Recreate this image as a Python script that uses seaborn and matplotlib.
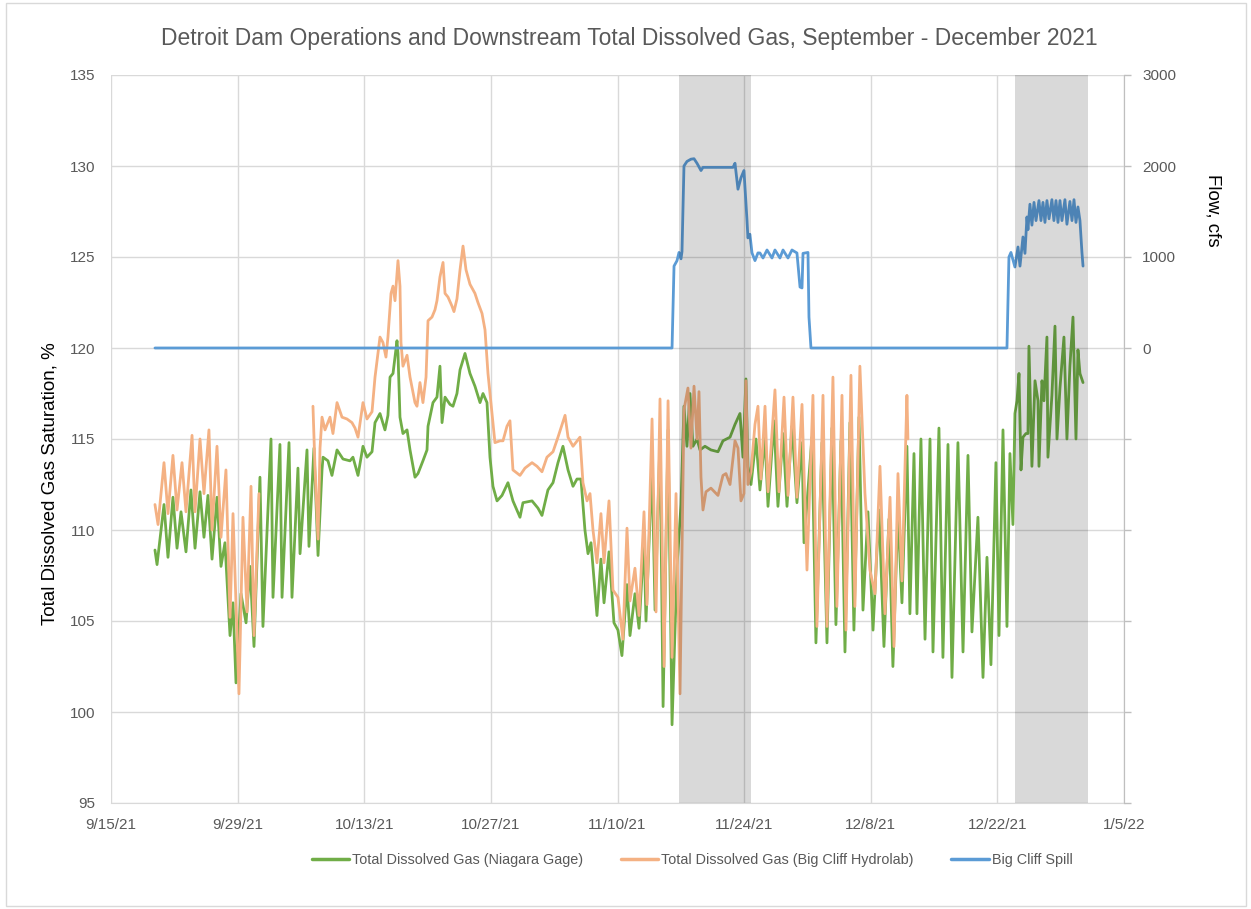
import numpy as np
import pandas as pd
import matplotlib
matplotlib.use("Agg")
import matplotlib.pyplot as plt
import matplotlib.dates as mdates
from matplotlib.lines import Line2D
from matplotlib.patches import Rectangle
import seaborn as sns

sns.set_style("white")
plt.rcParams['font.family'] = ['Liberation Sans', 'DejaVu Sans']

start = pd.Timestamp("2021-09-15")

# days after 9/15/21, with values
niagara_day = [4.86, 5.09, 5.86, 6.30, 6.85, 7.30, 7.74, 8.29, 8.84, 9.29, 9.84, 10.28, 10.72, 11.17,
               11.72, 12.16, 12.60, 13.16, 13.49, 13.82, 14.37, 14.93, 15.37, 15.81, 16.47, 16.80,
               17.69, 17.91, 18.68, 18.91, 19.68, 20.01, 20.67, 20.90, 21.67, 21.89, 22.44, 22.89,
               23.33, 23.44, 23.99, 24.43, 24.99, 25.65, 26.42, 26.75, 27.31, 27.86, 28.30, 28.86,
               29.19, 29.74, 30.29, 30.62, 30.85, 31.18, 31.62, 31.73, 31.95, 32.28, 32.73, 33.06,
               33.61, 33.94, 34.49, 34.94, 35.05, 35.60, 36.04, 36.37, 36.60, 36.93, 37.48, 37.81,
               38.25, 38.59, 39.14, 39.69, 40.24, 40.80, 41.13, 41.57, 41.90, 42.23, 42.68, 43.23,
               43.89, 44.44, 45.22, 45.55, 46.55, 47.21, 47.65, 48.31, 48.87, 49.42, 49.97, 50.53,
               51.08, 51.52, 51.96, 52.40, 52.74, 53.07, 53.73, 54.17, 54.51, 55.06, 55.61, 56.05,
               56.49, 57.05, 57.38, 57.93, 58.38, 58.93, 59.15, 59.82, 60.15, 60.70, 61.04, 61.59,
               62.03, 62.58, 63.02, 63.35, 63.68, 64.01, 64.34, 64.79, 65.12, 65.67, 66.33, 67.11,
               67.66, 68.44, 68.99, 69.54, 69.87, 70.20, 70.42, 70.76, 71.31, 71.75, 72.31, 72.64,
               73.30, 73.74, 74.30, 74.74, 75.29, 75.84, 76.40, 76.62, 77.50, 77.94, 78.61, 79.16,
               79.71, 80.15, 80.71, 81.15, 81.70, 82.14, 82.70, 83.14, 83.69, 84.25, 84.91, 85.46,
               86.01, 86.45, 87.01, 87.45, 88.00, 88.33, 88.78, 89.11, 89.55, 90.00, 90.55, 90.88,
               91.54, 91.98, 92.54, 92.98, 93.64, 94.20, 94.75, 95.19, 95.85, 96.41, 96.85, 97.29,
               97.84, 98.18, 98.62, 99.06, 99.39, 99.72, 99.94, 100.17, 100.39, 100.61, 100.83,
               101.16, 101.38, 101.49, 101.82, 102.16, 102.49, 102.60, 102.93, 103.15, 103.48,
               103.59, 104.03, 104.37, 104.59, 104.92, 105.36, 105.69, 106.02, 106.36, 106.69,
               106.91, 107.13, 107.47]
niagara_tdg = [108.9, 108.1, 111.4, 108.5, 111.8, 109.0, 111.0, 108.8, 112.2, 109.0, 112.1, 109.6, 111.9, 108.4,
               111.8, 108.0, 109.3, 104.2, 106.0, 101.6, 106.5, 104.9, 108.0, 103.6, 112.9, 104.7,
               115.0, 106.3, 114.7, 106.3, 114.8, 106.3, 113.4, 108.7, 114.4, 109.1, 114.5, 108.6,
               113.3, 114.0, 113.8, 113.0, 114.4, 113.9, 113.8, 114.0, 113.0, 114.6, 114.0, 114.3,
               115.9, 116.4, 115.5, 116.3, 118.4, 118.6, 120.4, 119.7, 116.2, 115.3, 115.5, 114.4,
               112.9, 113.1, 113.8, 114.4, 115.7, 117.0, 117.3, 119.0, 115.9, 117.3, 116.9, 116.8,
               117.5, 118.8, 119.7, 118.6, 117.9, 117.0, 117.5, 117.0, 114.0, 112.4, 111.6, 111.9,
               112.6, 111.6, 110.7, 111.5, 111.6, 111.2, 110.8, 112.2, 112.6, 113.7, 114.6, 113.3,
               112.4, 112.8, 112.8, 110.0, 108.7, 109.3, 105.3, 108.4, 106.0, 108.8, 104.9, 104.5,
               103.1, 107.0, 104.2, 106.5, 104.6, 109.5, 105.0, 113.5, 105.6, 115.0, 100.3, 115.5,
               99.3, 108.0, 111.4, 116.8, 114.6, 117.5, 114.6, 115.0, 114.4, 114.6, 114.4, 114.3,
               114.9, 115.1, 115.8, 116.4, 114.0, 118.3, 113.5, 112.5, 115.0, 112.2, 115.1, 111.3,
               116.0, 111.3, 115.3, 111.3, 115.7, 111.5, 114.8, 109.3, 115.1, 103.8, 114.8, 103.8,
               115.6, 104.8, 114.9, 103.3, 115.9, 104.5, 116.2, 105.6, 111.0, 104.5, 111.1, 103.6,
               110.6, 102.5, 111.0, 106.0, 114.6, 105.4, 114.2, 105.4, 115.0, 104.0, 115.0, 103.3,
               115.6, 103.0, 114.7, 101.9, 114.8, 103.3, 114.1, 104.4, 110.7, 101.9, 108.5, 102.6,
               113.7, 104.2, 115.5, 104.7, 114.2, 110.3, 116.4, 117.1, 118.6, 113.3, 115.1,
               115.3, 115.3, 120.1, 113.5, 118.2, 117.1, 113.5, 118.2, 117.1, 120.6,
               114.0, 117.4, 121.2, 115.0, 117.8, 120.6, 115.0, 119.0, 121.7, 115.0,
               119.9, 118.6, 118.1]

hydrolab_day = [4.86, 5.20, 5.86, 6.30, 6.85, 7.30, 7.85, 8.29, 8.96, 9.29, 9.84, 10.28, 10.83, 11.17,
                11.72, 12.16, 12.71, 13.16, 13.49, 14.15, 14.59, 15.04, 15.48, 15.81, 16.36,
                22.33, 22.55, 22.89, 23.11, 23.33, 23.66, 24.21, 24.54, 24.99, 25.54, 26.09, 26.64,
                26.98, 27.31, 27.86, 28.30, 28.86, 29.19, 29.74, 30.07, 30.40, 30.62, 30.96, 31.18,
                31.40, 31.73, 31.95, 32.06, 32.28, 32.73, 33.06, 33.61, 33.83, 34.16, 34.49, 34.83,
                35.05, 35.49, 35.82, 36.04, 36.37, 36.71, 36.93, 37.26, 37.70, 37.92, 38.25, 38.59,
                38.92, 39.25, 39.69, 40.24, 40.57, 41.02, 41.35, 41.68, 42.12, 42.45, 43.01, 43.34,
                43.78, 44.11, 44.44, 45.22, 45.77, 46.55, 47.10, 47.65, 48.20, 48.87, 49.42, 50.20,
                50.53, 51.08, 51.85, 52.18, 52.63, 52.96, 53.29, 53.73, 54.17, 54.51, 55.06, 55.50,
                56.05, 56.60, 57.05, 57.38, 57.93, 58.38, 58.93, 59.26, 59.82, 60.26, 60.70, 61.15,
                61.59, 62.03, 62.47, 62.91, 63.35, 63.79, 64.12, 64.46, 64.79, 65.01, 65.23, 65.45,
                65.78, 66.33, 67.11, 67.66, 67.99, 68.44, 68.99, 69.32, 69.65, 69.98, 70.20, 70.42,
                70.76, 71.20, 71.53, 71.86, 72.31, 72.64, 73.41, 73.85, 74.41, 74.85, 75.40, 75.84,
                76.40, 76.95, 77.61, 78.05, 78.72, 79.16, 79.82, 80.26, 80.82, 81.26, 81.81, 82.25,
                82.80, 83.36, 83.91, 84.47, 85.02, 85.57, 86.13, 86.57, 87.01, 87.45, 88.00, 88.11]
hydrolab_tdg = [111.4, 110.3, 113.7, 110.9, 114.1, 111.1, 113.7, 111.0, 115.2, 111.0, 115.0, 112.0, 115.5, 110.0,
                114.6, 109.6, 113.3, 105.2, 110.9, 101.0, 110.7, 105.5, 112.4, 104.2, 112.0,
                116.8, 113.5, 109.5, 114.5, 116.2, 115.5, 116.2, 115.3, 117.0, 116.2, 116.1, 115.9,
                115.6, 115.1, 117.0, 116.1, 116.5, 118.4, 120.6, 120.3, 119.5, 120.6, 123.0, 123.4,
                122.6, 124.8, 123.4, 120.3, 119.0, 119.6, 118.4, 117.0, 116.8, 118.1, 117.0, 118.4,
                121.5, 121.7, 122.1, 122.6, 123.9, 124.7, 123.0, 122.8, 122.3, 122.0, 122.7, 124.3,
                125.6, 124.3, 123.5, 123.0, 122.5, 121.9, 121.0, 118.6, 116.4, 114.8, 114.9, 114.9,
                115.7, 116.0, 113.3, 113.0, 113.4, 113.7, 113.5, 113.2, 114.0, 114.3, 115.1, 116.3,
                115.1, 114.6, 115.1, 112.6, 111.6, 112.0, 110.0, 108.2, 110.9, 108.2, 111.6, 106.7,
                106.3, 104.0, 110.1, 106.1, 107.9, 105.3, 111.0, 105.9, 116.1, 105.5, 117.2, 102.5,
                117.1, 103.0, 112.0, 101.0, 116.6, 117.8, 114.5, 117.9, 115.0, 117.6, 112.9, 111.1,
                112.1, 112.3, 111.9, 113.0, 113.1, 112.5, 114.9, 114.5, 111.6, 112.0, 118.2, 112.5,
                113.2, 115.8, 116.8, 112.8, 116.8, 112.1, 117.7, 112.1, 117.3, 111.9, 117.3, 111.8,
                116.9, 107.8, 117.4, 104.7, 117.4, 104.7, 118.4, 105.8, 117.4, 104.5, 118.5, 105.8,
                119.0, 112.0, 107.8, 106.5, 113.5, 105.4, 111.8, 103.6, 113.1, 107.2, 117.4, 115.0]
hydrolab_gap_after = 16.36  # no hydrolab data until 10/7

spill_day = [4.86, 62.03, 62.25, 62.58, 62.80, 63.02, 63.13, 63.35, 63.68, 64.12, 64.46, 64.79, 65.23,
             65.45, 68.77, 68.99, 69.32, 69.65, 69.98, 70.31, 70.42, 70.64, 70.87, 71.20, 71.53,
             71.75, 72.09, 72.53, 73.08, 73.41, 73.96, 74.30, 74.85, 75.29, 75.84, 76.18, 76.40,
             76.51, 77.06, 77.17, 77.39, 99.06, 99.28, 99.50, 99.94, 100.28, 100.50, 100.83,
             101.05, 101.27, 101.38, 101.60, 101.82, 102.05, 102.27, 102.60, 102.82, 103.04,
             103.26, 103.48, 103.71, 104.03, 104.25, 104.48, 104.70, 104.92, 105.14, 105.47,
             105.69, 106.02, 106.25, 106.47, 106.69, 106.91, 107.13, 107.35, 107.47]
spill_cfs = [0, 0, 900, 960, 1050, 980, 1060, 2000, 2050, 2075, 2080, 2030, 1950,
             1985, 1985, 2030, 1745, 1870, 1950, 1415, 1210, 1250, 1045, 960, 1045,
             1044, 989, 1077, 989, 1077, 989, 1077, 989, 1077, 1044, 670, 660,
             1040, 1050, 340, 0, 0, 1000, 1050, 890, 1110, 900, 1220,
             1040, 1440, 1300, 1580, 1350, 1600, 1400, 1620, 1400, 1600,
             1380, 1620, 1420, 1630, 1400, 1620, 1380, 1620, 1400, 1630,
             1360, 1610, 1400, 1630, 1380, 1550, 1400, 1050, 900]

spill_periods = [(62.8, 70.75), (99.94, 108.0)]

green = "#70AD47"
orange = "#F4B183"
blue = "#5B9BD5"
grey_txt = "#595959"
grid_c = "#D9D9D9"


def to_dates(days):
    return start + pd.to_timedelta(np.array(days), unit="D")


niagara = pd.DataFrame({"date": to_dates(niagara_day), "tdg": niagara_tdg})
hydro = pd.DataFrame({"date": to_dates(hydrolab_day), "tdg": hydrolab_tdg,
                      "seg": np.where(np.array(hydrolab_day) > hydrolab_gap_after, 1, 0)})
spill = pd.DataFrame({"date": to_dates(spill_day), "cfs": spill_cfs})

fig = plt.figure(figsize=(12.51, 9.09), dpi=100)
fig.patches.append(Rectangle((6 / 1251, 3 / 909), 1240 / 1251, 903 / 909, transform=fig.transFigure,
                             fill=False, edgecolor=grid_c, lw=1))
ax = fig.add_axes([111 / 1251, 106 / 909, 1013 / 1251, 728 / 909])

sns.lineplot(data=niagara, x="date", y="tdg", ax=ax, color=green, lw=2, estimator=None, sort=False, zorder=2)
sns.lineplot(data=hydro, x="date", y="tdg", units="seg", ax=ax, color=orange, lw=2,
             estimator=None, sort=False, zorder=3)

ax.set_ylim(95, 135)
ax.set_yticks(range(95, 136, 5))
ax.set_xlim(start, start + pd.Timedelta(days=112))
ax.set_xticks([start + pd.Timedelta(days=14 * k) for k in range(9)])
ax.xaxis.set_major_formatter(plt.FuncFormatter(
    lambda v, p: "{d.month}/{d.day}/{d:%y}".format(d=mdates.num2date(v))))
ax.set_axisbelow(True)
ax.grid(True, color=grid_c, lw=1, zorder=0.5)
ax.set_xlabel("")
ax.set_ylabel("")
ax.tick_params(axis="both", length=0, pad=11, labelsize=11, labelcolor=grey_txt)
for s in ax.spines.values():
    s.set_color(grid_c)
ax.spines["left"].set_visible(False)
ax.spines["top"].set_visible(False)

ax2 = ax.twinx()
sns.lineplot(data=spill, x="date", y="cfs", ax=ax2, color=blue, lw=2, estimator=None, sort=False)
ax2.set_ylim(-5000, 3000)
ax2.set_yticks(range(-5000, 3001, 1000))
ax2.set_yticklabels([str(t) if t >= 0 else "" for t in range(-5000, 3001, 1000)])
ax2.set_ylabel("")
ax2.tick_params(axis="y", length=5, width=1, color="#BFBFBF", pad=8, labelsize=11, labelcolor=grey_txt)
for s in ax2.spines.values():
    s.set_visible(False)
ax2.spines["right"].set_visible(True)
ax2.spines["right"].set_color("#BFBFBF")

# spill periods: translucent grey laid over all lines and the grid
for a, b in spill_periods:
    ax2.axvspan(start + pd.Timedelta(days=a), start + pd.Timedelta(days=b),
                color="black", alpha=0.15, lw=0, zorder=5)

fig.text(629 / 1251, 1 - 38 / 909, "Detroit Dam Operations and Downstream Total Dissolved Gas, September - December 2021",
         ha="center", va="center", fontsize=16.5, color=grey_txt)
fig.text(50 / 1251, 1 - 484 / 909, "Total Dissolved Gas Saturation, %", rotation=90,
         ha="center", va="center", fontsize=13.5, color="black")
fig.text(1213 / 1251, 1 - 210 / 909, "Flow, cfs", rotation=270,
         ha="center", va="center", fontsize=13.5, color="black")

handles = [Line2D([], [], color=green, lw=2.5), Line2D([], [], color=orange, lw=2.5),
           Line2D([], [], color=blue, lw=2.5)]
labels = ["Total Dissolved Gas (Niagara Gage)", "Total Dissolved Gas (Big Cliff Hydrolab)", "Big Cliff Spill"]
fig.legend(handles, labels, loc="center", bbox_to_anchor=(692 / 1251, 1 - 860 / 909), ncol=3,
           frameon=False, fontsize=10.4, handlelength=2.6, handletextpad=0.2, columnspacing=2.6,
           labelcolor=grey_txt)

fig.savefig("out.png", dpi=100)
